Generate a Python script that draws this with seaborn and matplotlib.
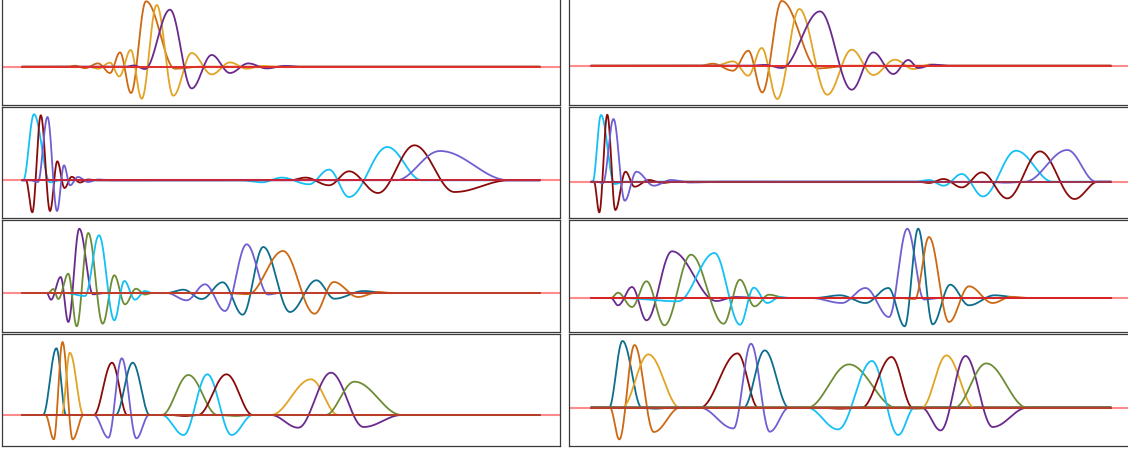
import numpy as np
import matplotlib
matplotlib.use("Agg")
import matplotlib.pyplot as plt
import seaborn as sns

# Each curve is given by its successive knots (x, amplitude):
# zero start, every peak / trough, zero end.  x is in samples along the support.

COLORS = {
    "orange": "#cd6912",
    "yellow": "#e1a425",
    "purple": "#6a2a8c",
    "slate": "#6f5fd2",
    "cyan": "#14c0f5",
    "darkred": "#8a0a0a",
    "teal": "#0d6d8c",
    "olive": "#6e8c35",
}

PANEL_1 = {
    "orange": ([46, 53, 63, 76, 88, 98, 109, 124, 153, 178],
               [0, 1, -1.5, 3.3, -6.3, 14.3, -26.3, 65.4, -2, 0]),
    "yellow": ([66, 76, 88, 97.3, 108.7, 119.7, 134.7, 151.3, 169.7, 189.7, 208, 224.7, 240, 253],
               [0, -2, 4, -9.7, 16.7, -32, 61.7, -29, 13.7, -7.7, 4.3, -2, 0.8, 0]),
    "purple": ([103, 112, 123, 148, 169.7, 189.7, 208, 226.3, 244.7, 263, 278],
               [0, 1.2, -2.3, 57, -21.7, 11.7, -6.3, 3.3, -1.7, 0.8, 0]),
}

PANEL_2 = {
    "orange": ([109, 122, 142, 157.3, 171.3, 190.7, 227, 259],
               [0, 2, -5, 15, -26.7, 64.7, -2.7, 0]),
    "yellow": ([124, 142.3, 157.3, 170.7, 186.3, 208.3, 236.3, 260.7, 282.3, 304, 322.3, 339, 354],
               [0, 4.3, -10, 17.7, -33.3, 56.7, -29, 16, -9.3, 6, -3.3, 1.2, 0]),
    "purple": ([159, 174, 190.7, 229, 260.7, 282.3, 302.3, 317.3, 327.3, 342.3, 359],
               [0, 0.8, -2.3, 54.3, -24, 13.3, -8.3, 5.7, -2.3, 1, 0]),
}

PANEL_3 = {
    "cyan": ([1.3, 12, 28, 38, 218, 239.8, 259.8, 287, 307, 327, 365.3, 399.8],
             [0, 66, -2, 0, 0, -2, 2.7, -4, 10.7, -16.7, 33.3, 0]),
    "darkred": ([4, 10.3, 18.8, 28, 35.3, 42.5, 49.7, 58, 66, 74,
                 268, 283.5, 307, 327, 356, 392.5, 432.5, 487],
                [0, -32, 65, -30.7, 19, -7.7, 3.5, -2.2, 0.8, 0,
                 0, 2.7, -5, 9, -12.7, 35, -11.7, 0]),
    "slate": ([8, 16, 25.5, 35, 42, 48, 56, 66, 76, 88, 374, 418, 487],
              [0, -1.7, 63.3, -30.7, 15, -5, 3.3, -1.7, 0.8, 0, 0, 29.3, 0]),
}

PANEL_4 = {
    "cyan": ([1.7, 10, 23.5, 34, 324, 338, 352.6, 370.8, 392, 425, 461.7],
             [0, 66.7, -2.3, 0, 0, 1.7, -4, 7.7, -14.7, 31, 0]),
    "darkred": ([3, 8.3, 16.3, 24.3, 34.5, 43.5, 58, 71, 84,
                 327, 338, 352.6, 370.8, 390.8, 416.3, 449, 483.5, 507],
                [0, -30.7, 67, -28.3, 10, -5, 1.7, -1.3, 0,
                 0, -1.3, 2.7, -5.7, 9.3, -16.7, 30.3, -17.3, 0]),
    "slate": ([6, 12, 22.5, 33.7, 45.4, 62.8, 80, 99, 129, 395, 415, 434, 476.3, 505],
              [0, -1.5, 62.7, -19, 10, -4, 1.7, -0.8, 0, 0, -1, 0, 31.7, 0]),
}

PANEL_5 = {
    "purple": ([24.7, 29, 38.7, 46.3, 57.3, 71, 83],
               [0, -6.7, 16, -29, 64.3, -1.3, 0]),
    "olive": ([26, 31.3, 36.3, 46.3, 54.7, 66.3, 80.7, 92.3, 103, 114, 123, 130],
              [0, 4, -6, 19.3, -33.3, 60, -30.7, 17.7, -11.3, 4.3, -1.5, 0]),
    "cyan": ([43, 63, 77, 92.3, 102.3, 113, 123, 130],
             [0, -3, 57.7, -27.3, 12, -6.7, 2, 0]),
    "teal": ([144.7, 161.3, 179.7, 200.7, 220.7, 241.3, 268, 294.4, 312.5, 341.6, 363.5],
             [0, 3.3, -6, 10.7, -21.7, 46, -19, 12.7, -5.7, 2, 0]),
    "slate": ([144.7, 164.7, 183, 203, 224.7, 246, 258],
              [0, -7.3, 8.7, -18, 48.7, -1.5, 0]),
    "orange": ([203, 226, 261, 292.5, 311.8, 336, 356, 370],
               [0, -1.2, 42, -20.7, 11, -4, 1, 0]),
}

PANEL_6 = {
    "purple": ([20, 27, 41, 55.5, 81, 125.4, 143.5, 172.6],
               [0, -7.3, 11, -22.3, 46.7, -3, 1, 0]),
    "olive": ([20, 27, 41, 55.5, 73.4, 100, 132.6, 149, 163.5, 178, 194.5],
              [0, 5.3, -9, 16.7, -27.3, 43.3, -25.7, 18.3, -8.3, 3.3, 0]),
    "cyan": ([29, 87, 123.5, 149, 162.8, 176.3, 189, 199],
             [0, -3.3, 45, -26.7, 10.3, -5, 1, 0]),
    "slate": ([220, 250.8, 274.5, 298, 316.3, 333, 349],
              [0, -5, 10, -19, 69.3, -1.5, 0]),
    "teal": ([223.5, 249, 274.5, 297.4, 313.7, 327.2, 341.7, 359.2, 378, 403.5, 430.8],
             [0, 2.7, -5, 10, -28.3, 69.3, -26.3, 13.3, -7.3, 2.7, 0]),
    "orange": ([309, 324, 338, 358, 378, 401.7, 420, 438],
               [0, -1, 61, -24, 11.7, -5, 1.2, 0]),
}

PANEL_7 = {
    "teal_a": ([21, 34.4, 44], [0, 66.7, 0]),
    "orange": ([23.5, 31.8, 40.5, 50.7, 61.6], [0, -24.3, 73, -24.3, 0]),
    "yellow_a": ([39.8, 47.8, 61.6], [0, 62.3, 0]),
    "darkred_a": ([71.8, 90, 105.3], [0, 52.3, 0]),
    "slate": ([71.8, 86.4, 99.8, 114.4, 127], [0, -22.7, 56.7, -23.3, 0]),
    "teal_b": ([93.6, 110.7, 127.8], [0, 52.3, 0]),
    "olive_a": ([139.8, 166.4, 195.5, 213, 230], [0, 40, 0, -1, 0]),
    "cyan": ([139.8, 161.6, 185.3, 209.6, 230.7], [0, -20, 40.7, -20, 0]),
    "darkred_b": ([148, 163, 176, 204.5, 230.7], [0, -1, 0, 40.7, 0]),
    "yellow_b": ([249, 289, 316.2], [0, 35.7, 0]),
    "purple": ([249, 276.2, 309, 341.6, 379.8], [0, -12.7, 42.3, -12, 0]),
    "olive_b": ([303.5, 332.5, 379.8], [0, 33.3, 0]),
}

PANEL_8 = {
    "teal_a": ([18, 31.5, 50.8, 64, 79], [0, 66.7, 0, -1, 0]),
    "orange": ([19, 28.3, 43.5, 62.8, 89], [0, -31.7, 62.7, -24.3, 0]),
    "yellow_a": ([30.8, 57.4, 89], [0, 53.3, 0]),
    "darkred_a": ([109, 146.5, 167.2], [0, 54.3, 0]),
    "slate": ([109, 142.5, 160, 178.8, 198], [0, -20.7, 64, -24, 0]),
    "teal_b": ([152.6, 173.7, 198], [0, 57.3, 0]),
    "olive_a": ([216.3, 258, 305.4, 324, 344], [0, 43.3, 0, -1, 0]),
    "cyan": ([216.3, 247, 281, 307.2, 323.5], [0, -21.7, 46.7, -27.3, 0]),
    "darkred_b": ([229, 249, 270.8, 300.6, 321.7], [0, -1, 0, 50.7, 0]),
    "yellow_b": ([330.8, 355.5, 383.5], [0, 52.3, 0]),
    "purple": ([330.8, 349.7, 374.5, 401.7, 436.3], [0, -22.7, 51.7, -19.3, 0]),
    "olive_b": ([363.5, 395.2, 436.3], [0, 44.3, 0]),
}

PANELS = [PANEL_1, PANEL_2, PANEL_3, PANEL_4, PANEL_5, PANEL_6, PANEL_7, PANEL_8]
BASELINE = ["#e0302a", "#e0302a", "#c8243a", "#a2304a",
            "#c03e2c", "#d82424", "#b83c28", "#b83c28"]

W, H = 1128, 452
# pixel boxes (left, right, data span) per column, (top, bottom) per row, zero row per panel
COLS = [(2, 560, 518), (569, 1133, 520)]
ROWS = [(-5, 106), (108, 219), (221, 333), (335, 447)]
ZERO = [67.7, 66.7, 181.3, 182.7, 294, 299, 416, 408.7]


def trace(kx, ky, grid):
    y = np.zeros_like(grid)
    for x0, y0, x1, y1 in zip(kx[:-1], ky[:-1], kx[1:], ky[1:]):
        m = (grid >= x0) & (grid <= x1)
        t = (grid[m] - x0) / (x1 - x0)
        y[m] = y0 + (y1 - y0) * (1 - np.cos(np.pi * t)) / 2
    return y


sns.set_theme(style="white")
fig = plt.figure(figsize=(W / 100, H / 100), dpi=100)

for i, panel in enumerate(PANELS):
    row, col = divmod(i, 2)
    left, right, span = COLS[col]
    top, bottom = ROWS[row]
    ax = fig.add_axes([left / W, 1 - bottom / H, (right - left) / W, (bottom - top) / H])
    ax.axhline(0, color="#ff7070", alpha=0.8, lw=1.5, zorder=0)
    grid = np.linspace(0, span, span * 4 + 1)
    for name, (kx, ky) in panel.items():
        sns.lineplot(x=grid, y=trace(kx, ky, grid), ax=ax, color=COLORS[name.split("_")[0]],
                     linewidth=1.3, estimator=None, sort=False, legend=False)
    sns.lineplot(x=[0, span], y=[0, 0], ax=ax, color=BASELINE[i], linewidth=1.4,
                 estimator=None, legend=False)
    pad = ((right - left) - span) / 2
    ax.set_xlim(-pad, span + pad)
    z = ZERO[i]
    ax.set_ylim(z - bottom, z - top)
    ax.set_xticks([])
    ax.set_yticks([])
    ax.set_xlabel("")
    ax.set_ylabel("")
    for s in ax.spines.values():
        s.set_color("#3a3a3a")
        s.set_linewidth(0.9)

fig.savefig("out.png", dpi=100)
